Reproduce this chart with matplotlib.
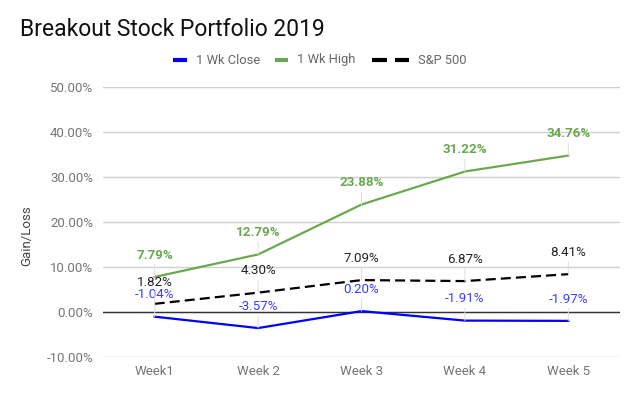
import numpy as np
import matplotlib.pyplot as plt
from matplotlib.lines import Line2D
from matplotlib.ticker import FuncFormatter

plt.rcParams['font.family'] = ['Roboto', 'DejaVu Sans']

weeks = ["Week1", "Week 2", "Week 3", "Week 4", "Week 5"]
wk_close = [-1.04, -3.57, 0.20, -1.91, -1.97]
wk_high = [7.79, 12.79, 23.88, 31.22, 34.76]
sp500 = [1.82, 4.30, 7.09, 6.87, 8.41]

W, H = 640, 396
fig = plt.figure(figsize=(6.4, 3.96), dpi=100)
ax = fig.add_axes([103 / W, 1 - 357 / H, 517 / W, 270 / H])

x = np.arange(len(weeks))

# lineas principales
ax.plot(x, wk_close, color="#0000ff", lw=1.6, zorder=3)
ax.plot(x, wk_high, color="#6aa84f", lw=1.6, zorder=3)
ax.plot(x, sp500, color="black", lw=1.6, dashes=(4.5, 2.3), zorder=3)

# etiquetas de datos con linea guia
series = [
    (wk_close, "#3c3cff", "normal"),
    (wk_high, "#6aa84f", "bold"),
    (sp500, "#222222", "normal"),
]
for vals, col, wt in series:
    for xi, v in zip(x, vals):
        ax.annotate(f"{v:.2f}%", xy=(xi, v), xytext=(0, 11), textcoords="offset points",
                    ha="center", va="bottom", fontsize=9.6, color=col, fontweight=wt,
                    zorder=5,
                    arrowprops=dict(arrowstyle="-", color="#dddddd", lw=0.7,
                                    shrinkA=0, shrinkB=0))

ax.set_xlim(-0.5, 4.5)
ax.set_ylim(-10, 50)
ax.set_yticks(np.arange(-10, 51, 10))
ax.yaxis.set_major_formatter(FuncFormatter(lambda v, p: f"{v:.2f}%"))
ax.set_xticks(x)
ax.set_xticklabels(weeks)
ax.tick_params(axis="both", length=0, labelsize=9.5, labelcolor="#757575")
ax.tick_params(axis="y", pad=7)
ax.tick_params(axis="x", pad=6)

ax.grid(axis="y", color="#d0d0d0", lw=1)
ax.set_axisbelow(True)
ax.axhline(0, color="#333333", lw=1, zorder=2)
for s in ax.spines.values():
    s.set_visible(False)

ax.set_ylabel("Gain/Loss", fontsize=9.5, color="#444444", labelpad=10)
ax.yaxis.set_label_coords(-0.135, 0.45)

fig.text(20 / W, 1 - 30 / H, "Breakout Stock Portfolio 2019", fontsize=16.5,
         color="#111111", va="center", ha="left")

# leyenda dibujada a mano (marcas cortas y gruesas como en Sheets)
ley_y = 1 - 60 / H
ley = [
    ("1 Wk Close", "#0000ff", [(173, 187)], 196),
    ("1 Wk High", "#6aa84f", [(275, 288)], 297),
    ("S&P 500", "black", [(372, 387), (395, 409)], 418),
]
for txt, col, segs, tx in ley:
    for a, b in segs:
        fig.add_artist(Line2D([a / W, b / W], [ley_y, ley_y], color=col, lw=3,
                              solid_capstyle="butt"))
    fig.text(tx / W, ley_y, txt, fontsize=9.3, color="#666666", va="center", ha="left")

fig.savefig("out.png", dpi=100)
